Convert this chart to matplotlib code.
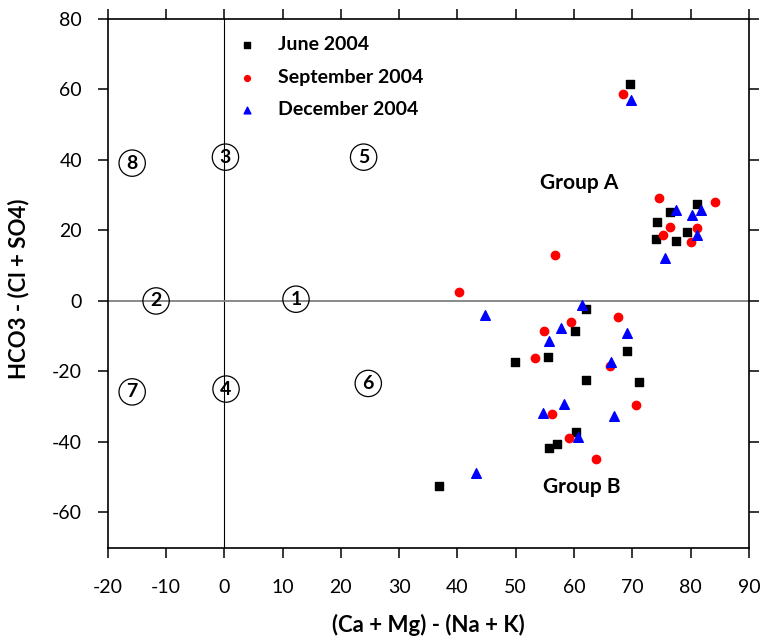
import numpy as np
import matplotlib.pyplot as plt

# June 2004
june_x = [69.6, 81.0, 76.5, 74.3, 79.4, 74.1, 77.5,
          62.1, 60.1, 69.0, 55.5, 49.9, 62.1, 71.1, 60.3, 57.1, 55.7, 36.8]
june_y = [61.6, 27.5, 25.1, 22.4, 19.6, 17.5, 17.0,
          -2.3, -8.4, -14.2, -15.8, -17.2, -22.5, -22.9, -37.1, -40.5, -41.6, -52.6]

# September 2004
sep_x = [68.4, 74.6, 84.2, 76.4, 81.0, 75.2, 80.0, 56.8,
         40.3, 67.5, 59.5, 54.9, 53.3, 66.2, 70.6, 56.2, 59.2, 63.7]
sep_y = [58.7, 29.2, 28.2, 21.1, 20.6, 18.8, 16.6, 13.1,
         2.6, -4.5, -5.9, -8.4, -16.3, -18.4, -29.5, -32.1, -38.8, -44.9]

# December 2004
dec_x = [69.7, 77.4, 80.2, 81.8, 81.0, 75.6,
         44.8, 61.3, 57.7, 69.0, 55.7, 66.4, 58.2, 54.6, 66.8, 60.7, 43.1]
dec_y = [57.1, 25.9, 24.4, 25.7, 18.8, 12.1,
         -4.0, -1.2, -7.8, -9.0, -11.4, -17.2, -29.3, -31.9, -32.6, -38.7, -48.8]

# numbered fields
field_labels = ['1', '2', '3', '4', '5', '6', '7', '8']
field_x = [12.3, -11.7, 0.2, 0.3, 23.9, 24.7, -15.8, -15.8]
field_y = [0.5, 0.0, 40.8, -25.0, 40.8, -23.4, -25.8, 39.1]

group_labels = ['Group A', 'Group B']
group_x = [60.8, 61.3]
group_y = [33.6, -52.7]

plt.rcParams['font.family'] = ['Lato', 'DejaVu Sans']
plt.rcParams['axes.unicode_minus'] = False

fig = plt.figure(figsize=(7.61, 6.39), dpi=100)
ax = fig.add_axes([0.1415, 0.1429, 0.8427, 0.8274])

ax.axvline(0, color='black', linewidth=0.8, zorder=1)
ax.axhline(0, color='#808080', linewidth=1.3, zorder=1)

ax.scatter(june_x, june_y, marker='s', s=36, color='black', label='June 2004', zorder=3)
ax.scatter(sep_x, sep_y, marker='o', s=36, color='red', label='September 2004', zorder=3)
ax.scatter(dec_x, dec_y, marker='^', s=48, color='blue', label='December 2004', zorder=3)

for lab, x, y in zip(field_labels, field_x, field_y):
    ax.text(x, y, lab, ha='center', va='center', fontsize=14, fontweight='bold',
            bbox=dict(boxstyle='circle,pad=0.24', facecolor='none', edgecolor='black', linewidth=0.9))

for lab, x, y in zip(group_labels, group_x, group_y):
    ax.text(x, y, lab, ha='center', va='center', fontsize=15, fontweight='bold')

ax.set_xlim(-20, 90)
ax.set_ylim(-70, 80)
ax.set_xticks(np.arange(-20, 91, 10))
ax.set_yticks(np.arange(-60, 81, 20))

for sp in ax.spines.values():
    sp.set_linewidth(1.2)

ax.tick_params(axis='both', direction='out', length=7.5, width=1.1, labelsize=14,
               top=True, right=True)
ax.tick_params(axis='x', pad=15)
ax.tick_params(axis='y', pad=11)

ax.set_xlabel('(Ca + Mg) - (Na + K)', fontsize=16, fontweight='bold')
ax.set_ylabel('HCO3 - (Cl + SO4)', fontsize=16, fontweight='bold')
ax.xaxis.set_label_coords(0.5, -0.126)
ax.yaxis.set_label_coords(-0.122, 0.49)

leg = ax.legend(loc='upper left', bbox_to_anchor=(0.175, 1.0), frameon=False,
                prop={'weight': 'bold', 'size': 14},
                markerscale=0.7, handlelength=1.0, handletextpad=1.1, labelspacing=0.78)

fig.savefig('out.png', dpi=100)
